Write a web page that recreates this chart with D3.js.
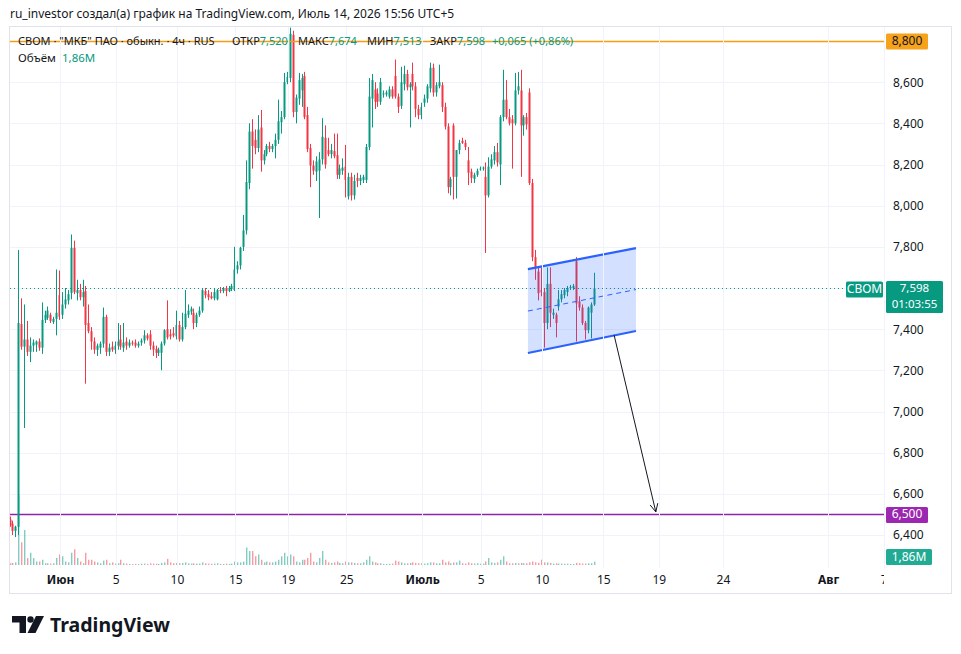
<!DOCTYPE html>
<html>
<head>
<meta charset="utf-8">
<script src="https://cdn.jsdelivr.net/npm/d3@7"></script>
<style>
  body { margin: 0; background: #fff; }
  text { font-family: "Noto Sans", Roboto, sans-serif; }
</style>
</head>
<body>
<div id="viz"></div>
<script>
// 4h candles, [open, high, low, close, volume (M)]
var lateMay = [
  [6475,6490,6440,6450,1.0],[6455,6470,6400,6420,1.2],[6420,6445,6390,6440,1.5],[6440,7785,6400,7430,40],
  [7425,7550,7300,7315,13],[7315,7520,6920,7350,20],[7350,7440,7270,7290,4],[7290,7360,7240,7320,7],
  [7320,7350,7290,7335,4],[7325,7345,7290,7340,2],[7340,7355,7295,7310,2],[7310,7530,7280,7445,3],
  [7445,7490,7430,7470,1],[7455,7510,7445,7490,1],[7470,7480,7430,7440,0.8],[7435,7460,7425,7450,1],
  [7450,7690,7370,7480,4]
];
var june1 = [
  [7565,7685,7445,7460,6],[7470,7580,7450,7520,5],[7520,7600,7500,7545,2],[7540,7590,7520,7570,1.5],
  [7575,7860,7545,7795,7],[7795,7830,7570,7580,9],[7575,7640,7540,7590,4],[7590,7620,7540,7555,2],
  [7555,7640,7510,7580,1],[7585,7610,7135,7420,7],[7430,7520,7380,7390,3],[7390,7410,7300,7340,3],
  [7340,7360,7280,7300,2],[7300,7330,7270,7320,1.5],[7310,7340,7280,7330,1],[7330,7505,7310,7460,2.5],
  [7460,7470,7270,7290,3],[7290,7330,7270,7310,1],[7315,7340,7290,7300,1.5]
];
var june2 = [
  [7300,7340,7280,7320,0.8],[7320,7430,7300,7340,1],[7350,7420,7300,7315,3],[7310,7430,7290,7335,1],
  [7340,7360,7300,7320,0.8],[7320,7350,7310,7335,0.6],[7335,7345,7320,7330,0.5],[7335,7350,7310,7320,0.6],
  [7320,7340,7310,7330,0.5],[7335,7355,7320,7345,0.7],[7345,7395,7330,7370,0.8],[7370,7380,7345,7355,0.6],
  [7375,7395,7300,7320,1],[7320,7340,7270,7300,0.8],[7305,7320,7260,7285,0.7],[7285,7310,7270,7300,0.6],
  [7285,7340,7200,7330,1.2],[7330,7400,7320,7395,1.5],[7400,7540,7350,7360,3.5],[7375,7400,7350,7365,1.5],
  [7380,7410,7360,7370,1]
];
var june3 = [
  [7365,7490,7350,7420,1.2],[7420,7440,7340,7350,1],[7350,7480,7340,7410,1.2],[7410,7590,7400,7475,1.5],
  [7470,7520,7455,7490,1],[7485,7510,7470,7500,0.8],[7480,7500,7400,7430,1],[7430,7480,7410,7470,0.8],
  [7470,7510,7460,7490,0.8],[7490,7600,7480,7590,1.5],[7585,7600,7550,7565,1],[7570,7590,7540,7555,0.8],
  [7560,7580,7545,7550,0.7],[7550,7595,7540,7580,0.8],[7545,7595,7540,7590,1],[7590,7605,7575,7585,0.6],
  [7585,7605,7575,7600,0.6],[7600,7610,7560,7585,0.8],[7585,7610,7580,7600,0.6],[7595,7620,7585,7610,0.8]
];
var june4 = [
  [7590,7800,7585,7690,2],[7690,7730,7670,7710,1.5],[7710,7800,7690,7795,1.5],[7800,7955,7780,7880,2],
  [7880,8220,7860,8115,10],[8110,8400,8080,8360,8],[8360,8420,8180,8290,8],[8320,8370,8250,8280,5],
  [8280,8440,8260,8370,6],[8380,8465,8165,8220,3],[8220,8270,8200,8250,1.5],[8250,8300,8240,8290,2],
  [8290,8310,8260,8275,1.5],[8275,8300,8260,8290,1.5],[8290,8350,8230,8320,2],[8320,8515,8300,8410,3],
  [8405,8460,8350,8430,5],[8430,8645,8420,8600,7]
];
var june5 = [
  [8600,8650,8590,8625,5],[8620,8865,8600,8835,6],[8830,8850,8430,8455,5],[8455,8540,8400,8525,2],
  [8520,8645,8490,8610,1.5],[8560,8640,8480,8620,3],[8630,8650,8420,8430,3],[8440,8480,8260,8275,4],
  [8280,8300,8090,8195,7],[8195,8220,8150,8170,2],[8165,8240,8120,8215,1.5],[8170,8260,7940,8225,4],
  [8225,8425,8200,8335,8],[8330,8390,8180,8200,3],[8270,8330,8240,8250,1.5],[8250,8300,8230,8270,1.2],
  [8265,8350,8230,8240,1.5],[8245,8350,8130,8150,2],[8150,8200,8130,8180,1.2],[8170,8230,8150,8185,1]
];
var june6 = [
  [8190,8295,8040,8125,2],[8045,8160,8030,8140,1.5],[8140,8160,8025,8050,1.5],[8050,8150,8030,8120,1.2],
  [8135,8160,8090,8120,1],[8120,8150,8100,8135,1],[8125,8150,8110,8140,1.5],[8125,8300,8110,8285,3],
  [8285,8620,8270,8530,5],[8520,8640,8380,8610,2],[8565,8600,8470,8505,1.5],[8545,8570,8480,8505,1],
  [8505,8620,8490,8600,1],[8540,8560,8525,8545,0.6],[8540,8560,8530,8550,0.6],[8530,8580,8520,8565,0.7],
  [8565,8580,8520,8530,0.8],[8630,8710,8520,8530,2.5],[8530,8545,8450,8480,2],[8485,8675,8470,8600,1.5],
  [8590,8680,8560,8640,1],[8640,8660,8560,8575,1],[8575,8600,8380,8590,1.2],[8640,8695,8560,8580,1.5],
  [8580,8600,8430,8470,1.2],[8470,8490,8420,8440,1]
];
var july1 = [
  [8440,8500,8420,8480,1],[8500,8540,8480,8520,0.8],[8520,8590,8500,8580,1],[8570,8695,8550,8670,1.5],
  [8670,8690,8530,8550,1.5],[8550,8600,8530,8585,1],[8580,8685,8570,8600,1],[8585,8600,8455,8480,3],
  [8480,8500,8370,8385,1.5],[8385,8400,8060,8090,2],[8090,8140,8050,8130,1],[8390,8400,8030,8140,1.5],
  [8140,8270,8035,8270,1.5],[8270,8320,8250,8305,2.5],[8315,8330,8300,8305,1],[8305,8320,8270,8285,0.8],
  [8220,8285,8100,8160,1.5],[8165,8180,8110,8135,1],[8130,8160,8110,8150,0.8],[8150,8180,8140,8170,1]
];
var july2 = [
  [8175,8190,8170,8180,0.8],[8180,8190,8170,8185,0.8],[8140,8210,7770,8050,2],[8050,8235,8040,8190,4],
  [8190,8250,8180,8225,1.5],[8220,8290,8200,8260,1.2],[8260,8305,8190,8210,1.5],[8200,8440,8100,8430,3],
  [8430,8660,8410,8515,5],[8515,8610,8420,8430,2],[8430,8470,8390,8400,1],[8420,8440,8180,8400,1],
  [8400,8645,8390,8560,1.2],[8560,8650,8540,8580,1],[8560,8660,8140,8390,1.2],[8390,8440,8340,8430,1],
  [8430,8450,8370,8395,1],[8550,8570,8100,8110,1.5],[8110,8130,7730,7750,2],[7750,7785,7640,7695,1.5],
  [7680,7700,7540,7575,1.2]
];
var july3 = [
  [7590,7700,7560,7580,3],[7580,7600,7310,7430,1.5],[7430,7700,7400,7620,1.5],[7620,7700,7410,7480,1.2],
  [7470,7500,7450,7480,0.8],[7470,7480,7360,7430,1],[7510,7590,7490,7545,0.8],[7545,7590,7530,7570,0.8],
  [7565,7600,7550,7590,0.7],[7580,7610,7560,7600,0.7],[7600,7615,7590,7605,0.6],[7600,7620,7590,7610,0.6],
  [7730,7750,7340,7525,1.2],[7535,7560,7490,7505,1],[7505,7520,7420,7430,0.8],[7430,7440,7350,7395,0.8],
  [7395,7510,7380,7505,1],[7480,7530,7355,7520,1],[7520,7674,7513,7598,1.86]
];

// 7,600 and 8,800 are hidden behind the price tags
var priceTicks = [6400, 6600, 6800, 7000, 7200, 7400, 7800, 8000, 8200, 8400, 8600];
var gridPrices = [6400, 6600, 6800, 7000, 7200, 7400, 7600, 7800, 8000, 8200, 8400, 8600, 8800];
var timeTicks = [
  {i: 17, label: "Июн", month: true}, {i: 36, label: "5"}, {i: 57, label: "10"}, {i: 77, label: "15"},
  {i: 95, label: "19"}, {i: 115, label: "25"}, {i: 141, label: "Июль", month: true}, {i: 161, label: "5"},
  {i: 182, label: "10"}, {i: 203, label: "15"}, {i: 222, label: "19"}, {i: 244, label: "24"},
  {i: 280, label: "Авг", month: true}, {i: 299, label: "7"}
];
// drawings: [candle index, price]
var channelTop = [[177.2, 7692], [214.2, 7794]];
var channelBottom = [[177.2, 7284], [214.2, 7391]];
var arrowLine = [[206.7, 7372], [221, 6512]];
var levelHigh = 8800, levelLow = 6500;
var lastPrice = 7598, lastVolume = 1.86;

var candles = [].concat(lateMay, june1, june2, june3, june4, june5, june6, july1, july2, july3)
  .map(function(d, i) { return {i: i, o: d[0], h: d[1], l: d[2], c: d[3], v: d[4]}; });

var UP = "#089981", DOWN = "#f23645", TXT = "#131722", GRID = "#f0f3fa";
var plotL = 10, plotR = 885, plotT = 27, plotB = 568;

var svg = d3.select("#viz").append("svg")
  .attr("width", 961).attr("height", 654);

var defs = svg.append("defs");
defs.append("clipPath").attr("id", "plotClip")
  .append("rect").attr("x", plotL).attr("y", plotT).attr("width", plotR - plotL).attr("height", plotB - plotT);
// used inside the translated time axis group
defs.append("clipPath").attr("id", "axisClip")
  .append("rect").attr("x", 0).attr("y", -5).attr("width", 884).attr("height", 30);

var x = d3.scaleLinear().domain([0, 300]).range([10.5, 886.5]);
var y = d3.scaleLinear().domain([6400, 8800]).range([535, 41]);
var vy = d3.scaleLinear().domain([0, 40]).range([565, 495]);

// frame
svg.append("rect").attr("x", 9.5).attr("y", 26.5).attr("width", 942).attr("height", 567)
  .attr("fill", "none").attr("stroke", "#e0e3eb");

// header
svg.append("text").attr("x", 10).attr("y", 18).attr("font-size", 12).attr("fill", TXT)
  .text("ru_investor создал(а) график на TradingView.com, Июль 14, 2026 15:56 UTC+5");

var plot = svg.append("g").attr("clip-path", "url(#plotClip)");

// grid
plot.selectAll(".hgrid").data(gridPrices).enter().append("line")
  .attr("x1", plotL).attr("x2", plotR)
  .attr("y1", function(d) { return Math.round(y(d)) + 0.5; })
  .attr("y2", function(d) { return Math.round(y(d)) + 0.5; })
  .attr("stroke", GRID);
svg.selectAll(".vgrid").data(timeTicks.filter(function(d) { return x(d.i) < plotR; })).enter().append("line")
  .attr("x1", function(d) { return Math.round(x(d.i)) + 0.5; })
  .attr("x2", function(d) { return Math.round(x(d.i)) + 0.5; })
  .attr("y1", plotT).attr("y2", plotB)
  .attr("stroke", GRID);

// volume
plot.selectAll(".vol").data(candles).enter().append("rect")
  .attr("x", function(d) { return Math.round(x(d.i)) - 1; })
  .attr("width", 1.4)
  .attr("y", function(d) { return vy(d.v); })
  .attr("height", function(d) { return vy(0) - vy(d.v); })
  .attr("fill", function(d) { return d.c >= d.o ? UP : DOWN; })
  .attr("opacity", 0.5);

// level lines
plot.append("line").attr("x1", plotL).attr("x2", plotR)
  .attr("y1", Math.round(y(levelLow)) + 0.5).attr("y2", Math.round(y(levelLow)) + 0.5)
  .attr("stroke", "#8e24aa").attr("stroke-width", 1.3);
plot.append("line").attr("x1", plotL).attr("x2", 845)
  .attr("y1", Math.round(y(lastPrice)) + 0.5).attr("y2", Math.round(y(lastPrice)) + 0.5)
  .attr("stroke", UP).attr("stroke-dasharray", "1,3");

// candles
var cg = plot.selectAll(".candle").data(candles).enter().append("g");
cg.append("rect")
  .attr("x", function(d) { return Math.round(x(d.i)) - 1; })
  .attr("width", 1)
  .attr("y", function(d) { return y(d.h); })
  .attr("height", function(d) { return Math.max(1, y(d.l) - y(d.h)); })
  .attr("fill", function(d) { return d.c >= d.o ? UP : DOWN; });
cg.append("rect")
  .attr("x", function(d) { return Math.round(x(d.i)) - 1.5; })
  .attr("width", 2)
  .attr("y", function(d) { return y(Math.max(d.o, d.c)); })
  .attr("height", function(d) { return Math.max(1, Math.abs(y(d.o) - y(d.c))); })
  .attr("fill", function(d) { return d.c >= d.o ? UP : DOWN; });

// channel drawing
var chPoly = [channelTop[0], channelTop[1], channelBottom[1], channelBottom[0]];
plot.append("polygon")
  .attr("points", chPoly.map(function(p) { return x(p[0]) + "," + y(p[1]); }).join(" "))
  .attr("fill", "#2962ff").attr("fill-opacity", 0.2);
var mid = [[channelTop[0][0], (channelTop[0][1] + channelBottom[0][1]) / 2],
           [channelTop[1][0], (channelTop[1][1] + channelBottom[1][1]) / 2]];
var lineGen = d3.line().x(function(p) { return x(p[0]); }).y(function(p) { return y(p[1]); });
plot.append("path").attr("d", lineGen(mid)).attr("stroke", "#2962ff").attr("stroke-width", 1)
  .attr("stroke-dasharray", "5,4").attr("fill", "none");
[channelTop, channelBottom].forEach(function(l) {
  plot.append("path").attr("d", lineGen(l)).attr("stroke", "#2962ff").attr("stroke-width", 2.2).attr("fill", "none");
});

// arrow
var ax1 = x(arrowLine[0][0]), ay1 = y(arrowLine[0][1]), ax2 = x(arrowLine[1][0]), ay2 = y(arrowLine[1][1]);
plot.append("line").attr("x1", ax1).attr("y1", ay1).attr("x2", ax2).attr("y2", ay2)
  .attr("stroke", TXT).attr("stroke-width", 1);
var ang = Math.atan2(ay2 - ay1, ax2 - ax1), hl = 9;
plot.append("path")
  .attr("d", "M" + (ax2 - hl * Math.cos(ang - 0.45)) + "," + (ay2 - hl * Math.sin(ang - 0.45)) +
    "L" + ax2 + "," + ay2 +
    "L" + (ax2 - hl * Math.cos(ang + 0.45)) + "," + (ay2 - hl * Math.sin(ang + 0.45)))
  .attr("stroke", TXT).attr("stroke-width", 1).attr("fill", "none");

// legend
var lg = svg.append("g").attr("font-size", 11);
lg.append("text").attr("x", 18).attr("y", 45).attr("fill", TXT).text('СВОМ · "МКБ" ПАО · обыкн. · 4ч · RUS');
[["ОТКР", "7,520", 232], ["МАКС", "7,674", 298], ["МИН", "7,513", 367], ["ЗАКР", "7,598", 430]].forEach(function(d) {
  var t = lg.append("text").attr("x", d[2]).attr("y", 45);
  t.append("tspan").attr("fill", TXT).text(d[0]);
  t.append("tspan").attr("fill", UP).text(d[1]);
});
lg.append("text").attr("x", 492).attr("y", 45).attr("fill", UP).text("+0,065 (+0,86%)");
lg.append("text").attr("x", 18).attr("y", 62).attr("fill", TXT).attr("font-size", 11.5).text("Объём");
lg.append("text").attr("x", 62).attr("y", 62).attr("fill", UP).attr("font-size", 11.5).text("1,86M");

// orange level drawn across the legend
plot.append("line").attr("x1", plotL).attr("x2", plotR)
  .attr("y1", Math.round(y(levelHigh)) + 0.5).attr("y2", Math.round(y(levelHigh)) + 0.5)
  .attr("stroke", "#f59d0f").attr("stroke-width", 1.5);

// price axis
var yAxis = svg.append("g").attr("transform", "translate(" + plotR + ",0)")
  .call(d3.axisRight(y).tickValues(priceTicks).tickFormat(d3.format(",")).tickSize(0).tickPadding(8));
yAxis.select(".domain").remove();
yAxis.selectAll("text").attr("font-size", 12).attr("fill", TXT).attr("font-family", '"Noto Sans", Roboto, sans-serif');

// time axis
var xAxis = svg.append("g").attr("transform", "translate(0,571)")
  .call(d3.axisBottom(x).tickValues(timeTicks.map(function(d) { return d.i; }))
    .tickFormat(function(d, k) { return timeTicks[k].label; }).tickSize(0).tickPadding(4));
xAxis.attr("clip-path", "url(#axisClip)");
xAxis.select(".domain").remove();
xAxis.selectAll("text").attr("font-size", 12).attr("fill", TXT).attr("font-family", '"Noto Sans", Roboto, sans-serif')
  .attr("font-weight", function(d, k) { return timeTicks[k].month ? 700 : 400; });

// right-side labels
function tag(xp, yc, w, h, fill, color, lines, fs, gap) {
  svg.append("rect").attr("x", xp).attr("y", yc - h / 2).attr("width", w).attr("height", h)
    .attr("rx", 1.5).attr("fill", fill);
  lines.forEach(function(s, k) {
    svg.append("text").attr("x", xp + w / 2).attr("y", yc - h / 2 + fs - 0.5 + k * gap)
      .attr("text-anchor", "middle").attr("font-size", fs).attr("fill", color).text(s);
  });
}
tag(886, y(levelHigh) + 0.5, 42, 16, "#f7a21b", TXT, [d3.format(",")(levelHigh)], 12, 0);
tag(886, y(levelLow) + 0.5, 42, 16, "#9c27b0", "#fff", [d3.format(",")(levelLow)], 12, 0);
tag(846, y(lastPrice) + 1, 37, 16, UP, "#fff", ["СВОМ"], 12, 0);
tag(886, y(lastPrice) + 8.5, 57, 32, UP, "#fff", [d3.format(",")(lastPrice), "01:03:55"], 11.5, 16);
tag(886, Math.min(vy(lastVolume), 557), 46, 16, "#22ab94", "#fff", ["1,86M"], 12, 0);

// TradingView logo
var logo = svg.append("g").attr("fill", TXT);
logo.append("path").attr("d", "M12,616 h14 v17 h-6.5 v-10.5 h-7.5 z");
logo.append("circle").attr("cx", 30.5).attr("cy", 619.5).attr("r", 3.2);
logo.append("path").attr("d", "M36,616 h8 l-8.5,17 h-8 z");
logo.append("text").attr("x", 50).attr("y", 632).attr("font-size", 19.5).attr("font-weight", 700)
  .attr("font-family", "Inter, sans-serif").text("TradingView");
</script>
</body>
</html>
